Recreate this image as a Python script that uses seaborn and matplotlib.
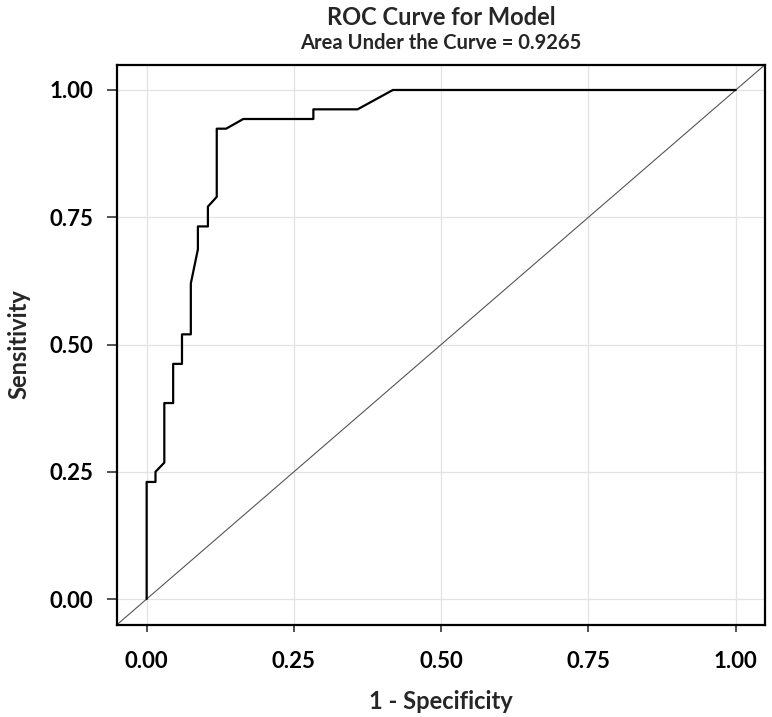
"""
ROC curve with diagonal reference line, seaborn version
"""
import matplotlib
matplotlib.use("Agg")
import seaborn as sns
import pandas as pd
import matplotlib.pyplot as plt

# ROC points (1 - specificity, sensitivity)
fpr = [0.000, 0.000, 0.015, 0.015, 0.030, 0.030, 0.045, 0.045, 0.060, 0.060,
       0.075, 0.075, 0.087, 0.087, 0.104, 0.104, 0.119, 0.119, 0.135, 0.164,
       0.283, 0.283, 0.358, 0.418, 1.000]
tpr = [0.000, 0.230, 0.230, 0.250, 0.268, 0.385, 0.385, 0.462, 0.462, 0.520,
       0.520, 0.620, 0.687, 0.732, 0.732, 0.771, 0.790, 0.924, 0.924, 0.943,
       0.943, 0.962, 0.962, 1.000, 1.000]
auc = 0.9265
ticks = [0.00, 0.25, 0.50, 0.75, 1.00]

df_roc = pd.DataFrame({"fpr": fpr, "tpr": tpr})

sns.set_style("whitegrid")
plt.rcParams.update({
    "font.family": ["Lato", "DejaVu Sans"],
    "font.weight": "bold",
    "xtick.bottom": True, "ytick.left": True,
    "xtick.major.size": 5, "ytick.major.size": 7,
    "xtick.major.width": 1.2, "ytick.major.width": 1.2,
    "xtick.major.pad": 14, "ytick.major.pad": 10,
    "xtick.color": "#333333", "ytick.color": "#333333",
    "xtick.labelcolor": "black", "ytick.labelcolor": "black",
    "grid.color": "#e3e3e3", "grid.linewidth": 0.9,
    "axes.edgecolor": "black", "axes.linewidth": 1.6,
})

fig = plt.figure(figsize=(7.72, 7.17), dpi=100)
ax = fig.add_axes([0.1518, 0.1290, 0.8394, 0.7810])

# diagonal reference y = x across the whole panel
ax.axline((0, 0), (1, 1), color="#555555", linewidth=0.8, zorder=2)
sns.lineplot(data=df_roc, x="fpr", y="tpr", sort=False, estimator=None,
             color="black", linewidth=1.6, ax=ax, zorder=3)

ax.set_xlim(-0.05, 1.05)
ax.set_ylim(-0.05, 1.05)
ax.set_xticks(ticks)
ax.set_yticks(ticks)
ax.set_xticklabels([f"{t:.2f}" for t in ticks], fontsize=16, fontweight="bold")
ax.set_yticklabels([f"{t:.2f}" for t in ticks], fontsize=16, fontweight="bold")
ax.tick_params(axis="x", which="major", bottom=True, length=5, pad=14)
ax.tick_params(axis="y", which="major", left=True, length=7, pad=10)

ax.set_xlabel("1 - Specificity", fontsize=17, fontweight="bold", labelpad=13)
ax.set_ylabel("Sensitivity", fontsize=17, fontweight="bold", labelpad=14)

cx = 0.1518 + 0.8394 / 2
fig.text(cx, 0.975, "ROC Curve for Model", ha="center", va="center",
         fontsize=17, fontweight="bold")
fig.text(cx, 0.940, f"Area Under the Curve = {auc}", ha="center", va="center",
         fontsize=14.5, fontweight="bold")

fig.savefig("out.png", dpi=100)
